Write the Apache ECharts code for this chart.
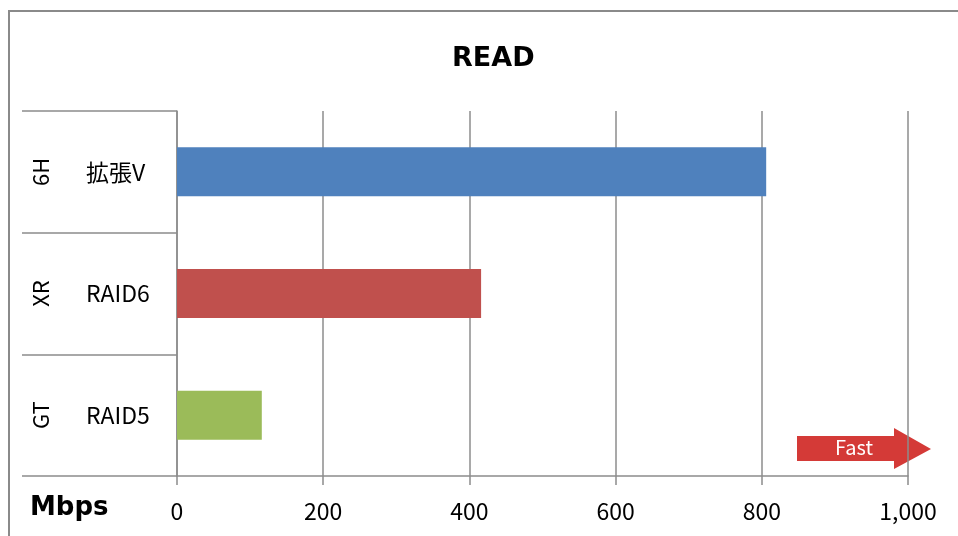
<!DOCTYPE html>
<html>
<head>
<meta charset="utf-8">
<script src="https://cdn.jsdelivr.net/npm/echarts@6/dist/echarts.min.js"></script>
<style>
html,body{margin:0;padding:0;background:#fff;}
#c{width:958px;height:536px;}
</style>
</head>
<body>
<div id="c"></div>
<script>
var innerLabels = ['拡張V', 'RAID6', 'RAID5'];
var outerLabels = ['6H', 'XR', 'GT'];
var readValues = [806, 416, 116];
var barColors = ['#4F81BD', '#C0504D', '#9BBB59'];
var xTicks = [0, 200, 400, 600, 800, 1000];

var gridColor = '#8c8c8c';
var lblFont = '"Noto Sans CJK JP", "Noto Sans", sans-serif';

function addCommas(v) {
  return String(v).replace(/\B(?=(\d{3})+(?!\d))/g, ',');
}

var chart = echarts.init(document.getElementById('c'));
chart.setOption({
  animation: false,
  backgroundColor: '#ffffff',
  title: [{
    text: 'READ',
    left: 447,
    top: 40,
    textStyle: { fontFamily: '"DejaVu Sans", sans-serif', fontWeight: 'bold', fontSize: 27, color: '#000' }
  }, {
    text: 'Mbps',
    left: 25,
    top: 490,
    textStyle: { fontFamily: '"DejaVu Sans", sans-serif', fontWeight: 'bold', fontSize: 26, color: '#000' }
  }],
  grid: { left: 177, right: 50, top: 111, bottom: 60, containLabel: false },
  xAxis: {
    type: 'value',
    min: xTicks[0],
    max: xTicks[xTicks.length - 1],
    interval: xTicks[1] - xTicks[0],
    axisLine: { show: true, lineStyle: { color: gridColor, width: 1.5 } },
    axisTick: { show: true, length: 9, lineStyle: { color: gridColor, width: 1.5 } },
    splitLine: { show: true, lineStyle: { color: gridColor, width: 1.5 } },
    axisLabel: {
      margin: 24,
      color: '#000',
      fontFamily: lblFont,
      fontSize: 23,
      formatter: function (v) { return addCommas(v); }
    }
  },
  yAxis: [{
    type: 'category',
    inverse: true,
    data: innerLabels,
    axisLine: { show: true, lineStyle: { color: gridColor, width: 1.5 } },
    axisTick: { show: true, length: 155, lineStyle: { color: gridColor, width: 1.5 } },
    axisLabel: { margin: 91, align: 'left', color: '#000', fontFamily: lblFont, fontSize: 23 }
  }, {
    type: 'category',
    inverse: true,
    position: 'left',
    data: outerLabels,
    axisLine: { show: false },
    axisTick: { show: false },
    axisLabel: { rotate: 90, margin: 125, color: '#000', fontFamily: lblFont, fontSize: 22 }
  }],
  series: [{
    type: 'bar',
    yAxisIndex: 0,
    barWidth: 49,
    data: readValues.map(function (v, i) {
      return { value: v, itemStyle: { color: barColors[i] } };
    })
  }],
  graphic: [{
    type: 'rect',
    shape: { x: 9, y: 11, width: 960, height: 540 },
    style: { fill: null, stroke: '#8a8a8a', lineWidth: 2 },
    silent: true
  }, {
    type: 'polygon',
    shape: { points: [[797, 436], [894, 436], [894, 428], [931, 449], [894, 469], [894, 461], [797, 461]] },
    style: { fill: '#D43A37' },
    silent: true
  }, {
    type: 'text',
    left: 835,
    top: 437,
    style: { text: 'Fast', fill: '#fff', font: '20px "Noto Sans CJK JP", sans-serif' },
    silent: true
  }]
});
</script>
</body>
</html>
